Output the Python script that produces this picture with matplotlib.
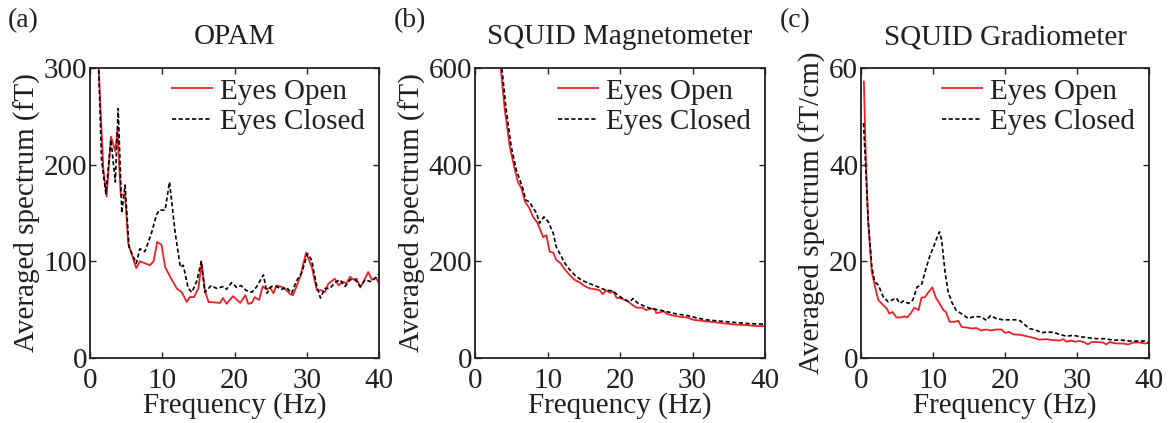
import matplotlib
matplotlib.use("Agg")
import matplotlib.pyplot as plt

# ---------------- data ----------------
# (a) OPAM
a_open_f = [1.0, 1.2, 1.85, 2.3, 2.9, 3.5, 3.8, 4.25, 4.85, 5.3, 6.4, 6.9, 8.3, 8.8, 9.3, 9.9, 10.4,
            11.1, 12.0, 12.7, 13.4, 13.8, 14.4, 15.0, 15.45, 15.9, 16.4, 18.0, 18.4, 18.9, 19.8,
            20.8, 21.5, 21.9, 22.4, 22.8, 23.4, 23.9, 24.5, 24.9, 25.4, 25.8, 26.8, 27.7, 28.1,
            29.1, 29.9, 30.7, 31.4, 32.1, 32.5, 33.0, 33.9, 34.4, 35.0, 35.5, 36.0, 36.5, 36.9,
            37.4, 37.8, 38.5, 39.0, 39.6, 40.0]
a_open_v = [360, 300, 195, 167, 229, 214, 236, 169, 169, 118, 93, 100, 96, 100, 120, 117, 94,
            84, 72, 68, 58, 63, 63, 72, 98, 70, 58, 57, 62, 56, 64,
            57, 65, 56, 57, 63, 60, 74, 71, 73, 67, 75, 73, 66, 65,
            84, 109, 94, 70, 70, 68, 77, 82, 75, 79, 77, 84, 81, 82,
            73, 78, 89, 81, 83, 77]
a_closed_f = [1.0, 1.2, 1.6, 2.2, 2.9, 3.5, 3.9, 4.4, 4.85, 5.4, 6.4, 6.9, 7.6, 8.5, 9.2, 9.6, 10.4,
              11.0, 11.8, 12.5, 12.9, 13.6, 14.1, 14.8, 15.4, 15.9, 16.8, 17.5, 18.5, 18.9, 19.6,
              20.3, 20.9, 21.6, 22.4, 23.1, 24.0, 24.5, 25.1, 25.8, 26.5, 27.2, 27.9, 28.6, 29.3,
              30.1, 30.7, 31.3, 31.9, 32.5, 33.2, 33.9, 34.6, 35.3, 36.0, 36.7, 37.4, 38.1, 38.8,
              39.4, 40.0]
a_closed_v = [360, 300, 205, 170, 226, 182, 258, 150, 179, 115, 98, 113, 110, 129, 148, 153, 153,
              182, 129, 94, 96, 72, 68, 80, 100, 68, 75, 72, 74, 71, 78,
              73, 75, 70, 68, 74, 86, 67, 74, 74, 71, 73, 67, 80, 88,
              108, 101, 77, 62, 72, 72, 78, 81, 74, 81, 81, 74, 81, 79,
              82, 87]

# (b) SQUID Magnetometer
b_open_f = [3.3, 3.55, 4.1, 4.8, 5.5, 5.9, 6.4, 6.9, 7.5, 8.0, 8.6, 9.0, 9.4, 9.85, 10.3, 10.8,
            11.2, 11.8, 12.4, 13.1, 13.8, 14.5, 15.1, 15.8, 16.7, 17.2, 17.6, 18.1, 18.6, 19.1,
            19.5, 20.2, 21.0, 21.6, 22.3, 23.1, 23.6, 24.2, 24.8, 25.0, 25.7, 26.0, 26.5, 27.3,
            28.3, 29.2, 30.1, 31.3, 32.4, 33.6, 34.7, 36.1, 37.5, 38.9, 40.0]
b_open_v = [639, 600, 514, 437, 389, 365, 351, 323, 310, 292, 280, 265, 250, 254, 220, 218,
            203, 196, 183, 171, 161, 156, 149, 144, 142, 140, 132, 140, 135, 137,
            125, 123, 118, 111, 104, 104, 99, 102, 102, 93, 95, 97, 91, 88,
            85, 84, 79, 77, 75, 73, 71, 69, 68, 66, 66]
b_closed_f = [3.45, 3.7, 4.3, 5.0, 5.7, 6.6, 7.0, 7.5, 8.5, 8.9, 9.5, 10.1, 10.8, 11.2, 11.7,
              12.4, 13.1, 13.8, 14.7, 15.8, 17.0, 18.1, 19.0, 19.7, 20.4, 21.3, 21.8, 22.5,
              23.4, 24.3, 25.5, 26.7, 27.8, 29.2, 30.6, 31.9, 33.3, 34.7, 36.3, 37.9, 40.0]
b_closed_v = [640, 600, 514, 437, 389, 351, 327, 323, 299, 279, 292, 282, 258, 230, 216,
              196, 182, 171, 161, 154, 147, 140, 139, 130, 123, 116, 123, 113,
              107, 102, 99, 95, 91, 88, 83, 79, 77, 75, 73, 71, 70]

# (c) SQUID Gradiometer
c_open_f = [0.4, 0.7, 1.0, 1.5, 1.9, 2.4, 3.1, 3.6, 3.9, 4.4, 4.9, 5.6, 6.0, 6.4, 6.9, 7.4, 8.0,
            8.4, 8.9, 9.3, 9.9, 10.4, 10.9, 11.4, 11.8, 12.3, 13.0, 13.5, 14.0, 14.7, 15.4, 16.0,
            16.7, 17.4, 18.1, 18.8, 19.5, 20.0, 20.6, 21.1, 22.1, 23.0, 23.9, 24.8, 25.8, 26.7,
            27.6, 28.1, 28.5, 29.2, 29.7, 30.4, 31.1, 31.5, 32.0, 32.9, 33.6, 34.1, 34.5, 35.5,
            36.4, 37.1, 37.8, 38.7, 39.4, 40.0]
c_open_v = [57.2, 39.6, 27.9, 17.8, 15.1, 12.0, 10.9, 10.2, 9.2, 9.5, 8.4, 8.4, 8.6, 8.4, 9.2, 10.4, 9.9,
            12.5, 12.6, 13.5, 14.6, 12.5, 11.3, 10.0, 9.5, 7.5, 7.5, 7.7, 6.4, 6.3, 6.1, 6.2,
            5.7, 5.9, 5.7, 5.9, 5.9, 5.2, 5.4, 4.9, 4.8, 4.5, 4.2, 3.8, 3.9, 3.7,
            3.6, 3.9, 3.4, 3.6, 3.4, 3.5, 3.2, 2.8, 3.3, 3.3, 3.2, 2.8, 3.3, 3.0,
            3.0, 2.8, 3.2, 3.2, 3.0, 3.1]
c_closed_f = [0.35, 0.7, 1.0, 1.5, 1.9, 2.4, 3.1, 3.8, 4.3, 4.9, 5.4, 5.9, 6.6, 7.2, 7.8, 8.4,
              9.1, 9.6, 10.0, 10.5, 10.9, 11.2, 11.7, 12.1, 12.6, 13.2, 14.0, 14.9, 15.8, 16.7,
              17.4, 18.0, 18.7, 19.7, 20.7, 21.6, 22.1, 22.8, 23.4, 24.4, 25.1, 25.8, 26.7, 27.6,
              28.5, 29.5, 30.4, 31.5, 32.7, 33.8, 35.0, 36.2, 37.3, 38.5, 39.4, 40.0]
c_closed_v = [48.6, 38.2, 28.5, 18.9, 15.8, 15.1, 12.6, 11.6, 12.0, 12.4, 11.3, 11.8, 11.3, 12.0, 14.7, 15.1,
              18.9, 21.3, 22.7, 24.7, 26.1, 24.4, 17.5, 13.7, 11.6, 9.9, 9.1, 8.2, 8.6, 8.5,
              7.8, 8.8, 8.2, 7.9, 7.9, 7.9, 7.7, 6.8, 6.1, 5.7, 5.2, 5.4, 5.3, 4.9,
              4.5, 4.7, 4.4, 4.2, 4.0, 4.0, 3.7, 3.7, 3.5, 3.5, 3.5, 3.1]

titles = ["OPAM", "SQUID Magnetometer", "SQUID Gradiometer"]
panel_labels = ["(a)", "(b)", "(c)"]
ylabels = ["Averaged spectrum (fT)", "Averaged spectrum (fT)", "Averaged spectrum (fT/cm)"]
yticks = [[0, 100, 200, 300], [0, 200, 400, 600], [0, 20, 40, 60]]
xticks = [0, 10, 20, 30, 40]
series_labels = ["Eyes Open", "Eyes Closed"]

# ---------------- style ----------------
plt.rcParams['font.family'] = ['Liberation Serif', 'DejaVu Serif']
FS = 21
RED = '#ec2027'
INK = '#231f20'

fig = plt.figure(figsize=(11.72, 4.23), dpi=100)
lefts = [90, 475, 861]
widths = [289, 290, 288]
W, H = 1172, 423
data = [(a_open_f, a_open_v, a_closed_f, a_closed_v),
        (b_open_f, b_open_v, b_closed_f, b_closed_v),
        (c_open_f, c_open_v, c_closed_f, c_closed_v)]
label_x = [8, 394, 780]

for i in range(3):
    ax = fig.add_axes([lefts[i] / W, (H - 358) / H, widths[i] / W, 290 / H])
    of, ov, cf, cv = data[i]
    ax.plot(of, ov, color=RED, lw=1.3, label=series_labels[0])
    ax.plot(cf, cv, color='black', lw=1.2, ls=(0, (2.5, 1.5)), label=series_labels[1])
    ax.set_xlim(0, 40)
    ax.set_ylim(yticks[i][0], yticks[i][-1])
    ax.set_xticks(xticks)
    ax.set_yticks(yticks[i])
    ax.tick_params(direction='in', top=True, right=True, length=4, width=1,
                   labelsize=FS, colors=INK)
    ax.tick_params(axis='x', pad=7)
    ax.tick_params(axis='y', pad=2)
    for s in ax.spines.values():
        s.set_linewidth(1.3)
        s.set_color(INK)
    ax.set_xlabel("Frequency (Hz)", fontsize=FS, labelpad=-1, color=INK)
    ax.set_ylabel(ylabels[i], fontsize=FS, labelpad=2, color=INK)
    ax.set_title(titles[i], fontsize=FS, pad=17, color=INK)
    leg = ax.legend(loc='upper right', bbox_to_anchor=(0.985, 1.0), frameon=False,
                    fontsize=FS, handlelength=1.37, handletextpad=0.25,
                    labelspacing=0.15, borderaxespad=0.15, borderpad=0.2)
    for t in leg.get_texts():
        t.set_color(INK)
    fig.text(label_x[i] / W, 1 - 21 / H, panel_labels[i], fontsize=FS - 1,
             va='center', ha='left', color=INK)

fig.savefig("out.png", dpi=100)
